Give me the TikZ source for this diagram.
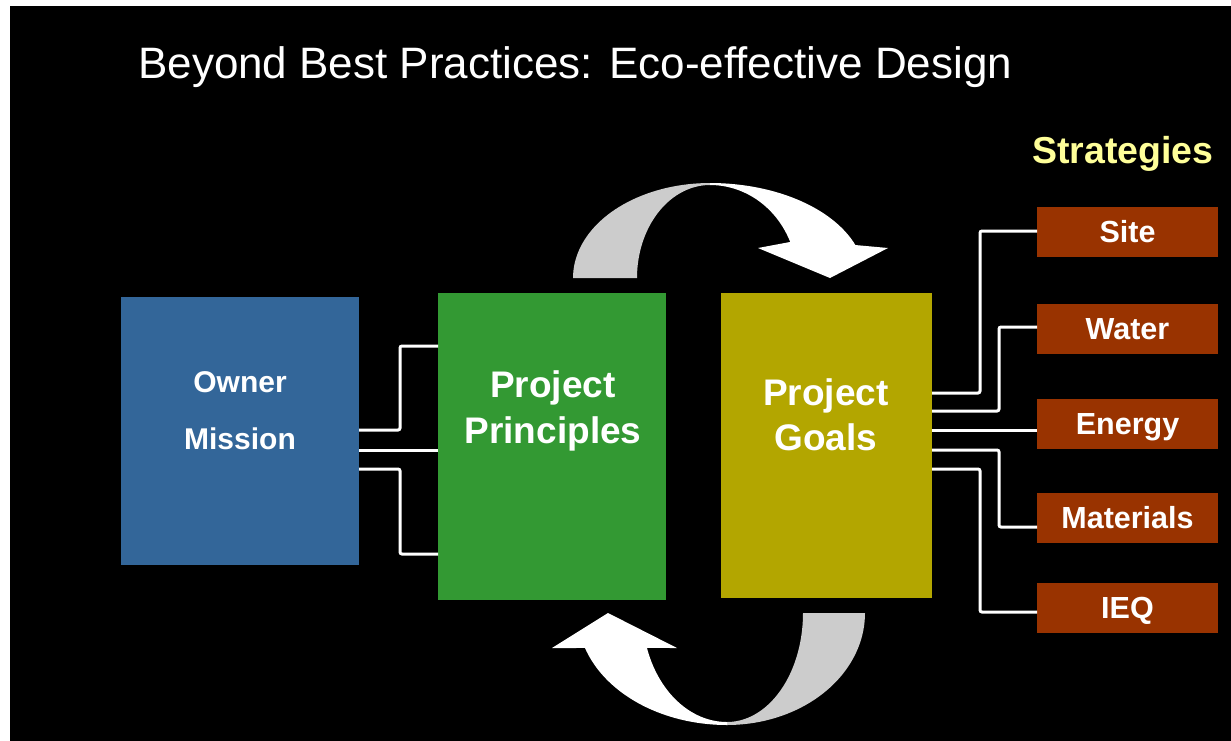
\documentclass[tikz,border=0pt]{standalone}
\usepackage{fontspec}
\setmainfont{Liberation Sans}
\definecolor{ownerblue}{RGB}{51,102,153}
\definecolor{princgreen}{RGB}{51,153,51}
\definecolor{goalolive}{RGB}{179,166,0}
\definecolor{stratbrown}{RGB}{153,51,0}
\definecolor{backarrow}{RGB}{204,204,204}
\definecolor{headyellow}{RGB}{255,255,153}
\begin{document}
\begin{tikzpicture}[x=1pt,y=-1pt,
  box/.style={rectangle, inner sep=0pt, outer sep=0pt, draw=none},
  stratbox/.style={box, fill=stratbrown, minimum width=181pt, minimum height=50pt,
    text=white, font=\bfseries\fontsize{30.5}{30.5}\selectfont, text height=21pt, text depth=0pt},
  wire/.style={draw=white, line width=3pt, rounded corners=2pt},
  lbl/.style={text=white, anchor=base, inner sep=0pt, font=\bfseries\fontsize{37}{37}\selectfont},
  smalllbl/.style={lbl, font=\bfseries\fontsize{30}{30}\selectfont},
  ell/.style={samples=40, variable=\t}
]
% canvas
\useasboundingbox (0,0) rectangle (1231,740);
\fill[white] (0,0) rectangle (1231,740);
\fill[black] (10,6) rectangle (1245,755);

% title and column heading
\node[anchor=base west, inner sep=0pt, text=white, font=\fontsize{44}{44}\selectfont]
  (title) at (138,78) {Beyond Best Practices: Eco-effective Design};
\node[anchor=base west, inner sep=0pt, text=headyellow, font=\bfseries\fontsize{37.5}{37.5}\selectfont]
  (strathead) at (1032,163) {Strategies};

% main boxes
\node[box, fill=ownerblue, minimum width=238pt, minimum height=268pt] (owner) at (240,431) {};
\node[box, fill=princgreen, minimum width=228pt, minimum height=307pt] (princ) at (552,446.5) {};
\node[box, fill=goalolive, minimum width=211pt, minimum height=305pt] (goals) at (826.5,445.5) {};

\node[smalllbl] (ownerA) at (240,392) {Owner};
\node[smalllbl] (ownerB) at (240,449) {Mission};
\node[lbl] (princA) at (553,397) {Project};
\node[lbl] (princB) at (553,443) {Principles};
\node[lbl] (goalsA) at (826,405) {Project};
\node[lbl] (goalsB) at (826,450) {Goals};

% strategy boxes
\node[stratbox] (site) at (1127.5,232) {Site};
\node[stratbox] (water) at (1127.5,328.5) {Water};
\node[stratbox] (energy) at (1127.5,423.5) {Energy};
\node[stratbox] (materials) at (1127.5,518) {Materials};
\node[stratbox] (ieq) at (1127.5,608) {IEQ};

% owner -> principles links
\draw[wire] (owner.east |- 0,430) -| (400,346) -- (princ.west |- 0,346);
\draw[wire] (owner.east |- 0,450) -- (princ.west |- 0,450);
\draw[wire] (owner.east |- 0,469) -| (400,554) -- (princ.west |- 0,554);

% goals -> strategies links
\draw[wire] (goals.east |- 0,393) -| (980,231) -- (site.west |- 0,231);
\draw[wire] (goals.east |- 0,411) -| (999,327) -- (water.west |- 0,327);
\draw[wire] (goals.east |- 0,430) -- (energy.west |- 0,430);
\draw[wire] (goals.east |- 0,450) -| (999,527) -- (materials.west |- 0,527);
\draw[wire] (goals.east |- 0,469) -| (980,612) -- (ieq.west |- 0,612);

% upper curved arrow: back face
\fill[backarrow] plot[ell, domain=180:90] ({710+137*cos(\t)},{278-95*sin(\t)})
  -- plot[ell, domain=90:180] ({710+73*cos(\t)},{278-93*sin(\t)}) -- cycle;
% upper curved arrow: front face with head
\fill[white] plot[ell, domain=90:20.3] ({710+155*cos(\t)},{278-95*sin(\t)})
  -- (888,248) -- (830,278) -- (758,248)
  -- plot[ell, domain=22.8:90] ({710+87*cos(\t)},{278-93*sin(\t)}) -- cycle;

% lower curved arrow: back face
\fill[backarrow] plot[ell, domain=0:90] ({727+138*cos(\t)},{613+112*sin(\t)})
  -- plot[ell, domain=90:0] ({727+76*cos(\t)},{613+109*sin(\t)}) -- cycle;
% lower curved arrow: front face with head
\fill[white] plot[ell, domain=90:161.8] ({727+149.5*cos(\t)},{613+112*sin(\t)})
  -- (552,648) -- (608,613) -- (677,648)
  -- plot[ell, domain=161.3:90] ({727+84.5*cos(\t)},{613+109*sin(\t)}) -- cycle;
\end{tikzpicture}
\end{document}
